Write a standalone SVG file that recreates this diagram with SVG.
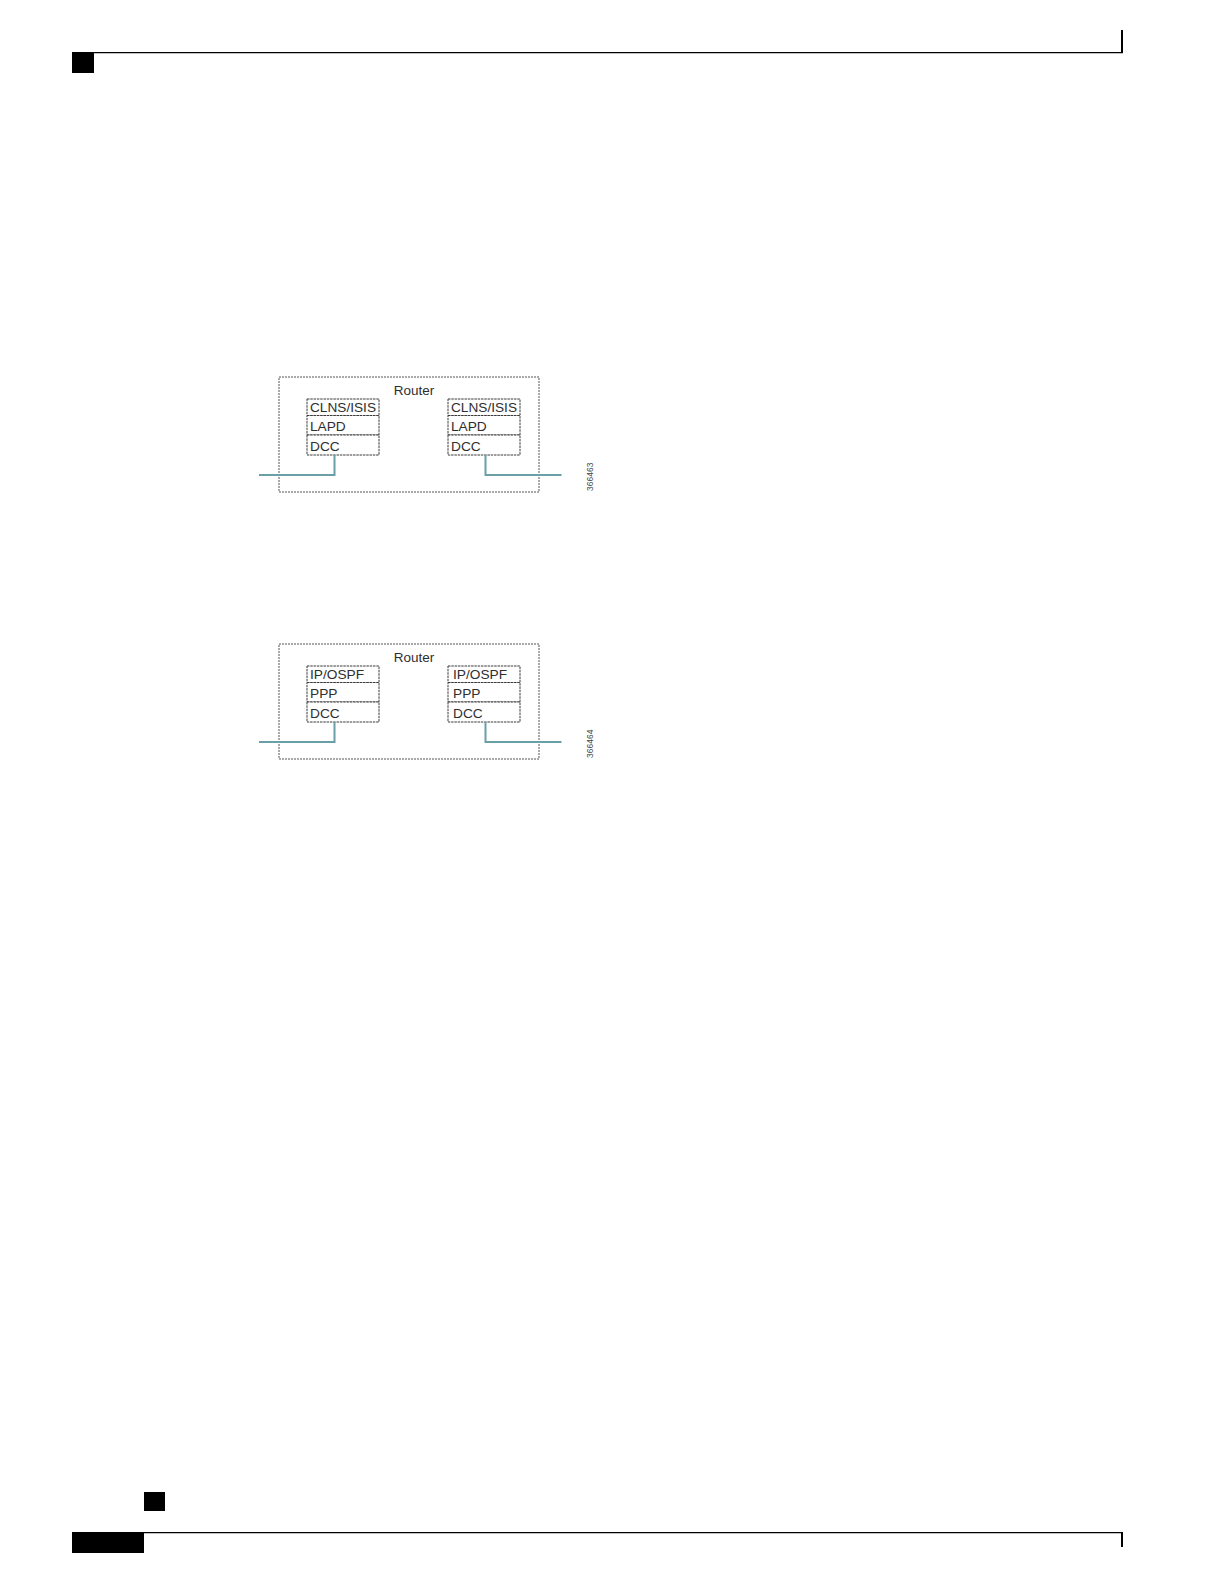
<svg xmlns="http://www.w3.org/2000/svg" width="1224" height="1584" viewBox="0 0 1224 1584">
  <style>
    .outer { fill: none; stroke: #555; stroke-width: 1; stroke-dasharray: 2 1; }
    .cell { fill: #fff; stroke: #3a3a3a; stroke-width: 1; stroke-dasharray: 2.5 0.8; }
    .lbl { font-family: "Liberation Sans", Arial, sans-serif; font-size: 13.7px; fill: #2e2e2e; }
    .title { font-family: "Liberation Sans", Arial, sans-serif; font-size: 13.5px; fill: #2e2e2e; }
    .fig { font-family: "Liberation Sans", Arial, sans-serif; font-size: 8.5px; fill: #444; }
    .link { fill: none; stroke: #6a9fa8; stroke-width: 2; }
    .page { fill: #000; }
  </style>

  <!-- page header / footer -->
  <g id="page">
    <rect class="page" x="72" y="52" width="22" height="21"/>
    <line x1="94" y1="52.6" x2="1123" y2="52.6" stroke="#000" stroke-width="1.3"/>
    <rect class="page" x="1121" y="30" width="2" height="23"/>
    <rect class="page" x="144" y="1492" width="21" height="19"/>
    <rect class="page" x="72" y="1532" width="72" height="21"/>
    <line x1="144" y1="1532.6" x2="1123" y2="1532.6" stroke="#000" stroke-width="1.3"/>
    <rect class="page" x="1121" y="1532" width="2" height="15"/>
  </g>

  <!-- Figure 1 -->
  <g id="router1">
    <rect class="outer" x="279" y="377" width="260" height="115"/>
    <text class="title" x="414" y="395" text-anchor="middle">Router</text>
  </g>
  <g id="stack1-left">
    <rect class="cell" x="307" y="399" width="72" height="16.5"/>
    <rect class="cell" x="307" y="415.5" width="72" height="19.5"/>
    <rect class="cell" x="307" y="435" width="72" height="20"/>
    <text class="lbl" x="310" y="412" textLength="66" lengthAdjust="spacingAndGlyphs">CLNS/ISIS</text>
    <text class="lbl" x="310" y="431">LAPD</text>
    <text class="lbl" x="310" y="450.5">DCC</text>
  </g>
  <g id="stack1-right">
    <rect class="cell" x="448" y="399" width="72" height="16.5"/>
    <rect class="cell" x="448" y="415.5" width="72" height="19.5"/>
    <rect class="cell" x="448" y="435" width="72" height="20"/>
    <text class="lbl" x="451" y="412" textLength="66" lengthAdjust="spacingAndGlyphs">CLNS/ISIS</text>
    <text class="lbl" x="451" y="431">LAPD</text>
    <text class="lbl" x="451" y="450.5">DCC</text>
  </g>
  <text class="fig" transform="translate(593,491) rotate(-90)">366463</text>

  <!-- Figure 2 -->
  <g id="router2">
    <rect class="outer" x="279" y="644" width="260" height="115"/>
    <text class="title" x="414" y="662" text-anchor="middle">Router</text>
  </g>
  <g id="stack2-left">
    <rect class="cell" x="307" y="666" width="72" height="16.5"/>
    <rect class="cell" x="307" y="682.5" width="72" height="19.5"/>
    <rect class="cell" x="307" y="702" width="72" height="20"/>
    <text class="lbl" x="310" y="679">IP/OSPF</text>
    <text class="lbl" x="310" y="698">PPP</text>
    <text class="lbl" x="310" y="717.5">DCC</text>
  </g>
  <g id="stack2-right">
    <rect class="cell" x="448" y="666" width="72" height="16.5"/>
    <rect class="cell" x="448" y="682.5" width="72" height="19.5"/>
    <rect class="cell" x="448" y="702" width="72" height="20"/>
    <text class="lbl" x="453" y="679">IP/OSPF</text>
    <text class="lbl" x="453" y="698">PPP</text>
    <text class="lbl" x="453" y="717.5">DCC</text>
  </g>
  <text class="fig" transform="translate(593,758) rotate(-90)">366464</text>

  <!-- connectors -->
  <g id="connectors">
    <polyline class="link" points="259,475 334.5,475 334.5,455"/>
    <polyline class="link" points="485.5,455 485.5,475 561.5,475"/>
    <polyline class="link" points="259,742 334.5,742 334.5,722"/>
    <polyline class="link" points="485.5,722 485.5,742 561.5,742"/>
  </g>
</svg>
